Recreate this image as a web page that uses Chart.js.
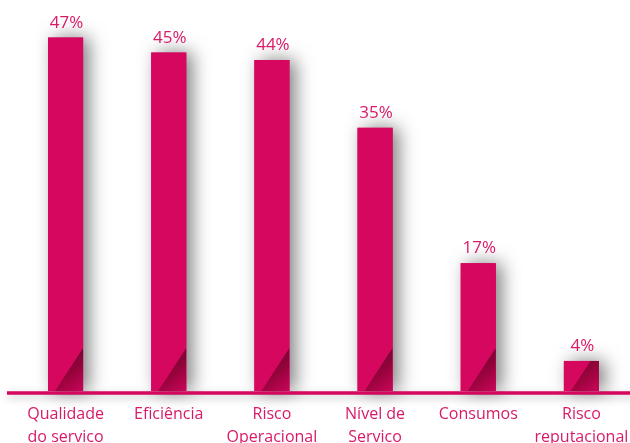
<!DOCTYPE html>
<html>
<head>
<meta charset="utf-8">
<script src="https://cdn.jsdelivr.net/npm/chart.js@4.4.1/dist/chart.umd.min.js"></script>
<style>
  html, body { margin: 0; padding: 0; background: #ffffff; overflow: hidden; }
  #wrap { width: 634px; height: 443px; }
</style>
</head>
<body>
<div id="wrap"><canvas id="c" width="634" height="443"></canvas></div>
<script>
const categories = [
  ["Qualidade", "do servico"],
  ["Eficiência"],
  ["Risco", "Operacional"],
  ["Nível de", "Servico"],
  ["Consumos"],
  ["Risco", "reputacional"]
];
const values = [47, 45, 44, 35, 17, 4];
const valueSuffix = "%";

const BAR = '#d5075f';
const TEXT = '#d81a68';

const shadowPlugin = {
  id: 'barShadow',
  beforeDatasetsDraw(chart) {
    const ctx = chart.ctx;
    ctx.save();
    // shadow under baseline
    const yb = chart.chartArea.bottom + 2;
    ctx.fillStyle = BAR;
    ctx.shadowColor = 'rgba(0,0,0,0.3)';
    ctx.shadowBlur = 8;
    ctx.shadowOffsetX = 0;
    ctx.shadowOffsetY = 3;
    ctx.fillRect(7, yb - 1.5, chart.width, 3);
    ctx.shadowColor = 'rgba(0,0,0,0.5)';
    ctx.shadowBlur = 18;
    ctx.shadowOffsetX = 6;
    ctx.shadowOffsetY = 0;
    chart.getDatasetMeta(0).data.forEach(el => {
      const w = el.width;
      ctx.fillRect(el.x - w / 2, el.y, w, el.base - el.y);
    });
    ctx.restore();
  },
  afterDatasetsDraw(chart) {
    const ctx = chart.ctx;
    const meta = chart.getDatasetMeta(0);
    meta.data.forEach((el, i) => {
      const w = el.width;
      const left = el.x - w / 2, right = el.x + w / 2;
      const top = el.y, base = el.base;
      // folded corner triangle
      ctx.save();
      ctx.beginPath();
      ctx.rect(left, top, w, base - top);
      ctx.clip();
      const x0 = left + 7, yTop = base - 43;
      const g = ctx.createLinearGradient(left + 12, base - 30, right, base);
      g.addColorStop(0, '#6e0530');
      g.addColorStop(0.45, '#98033c');
      g.addColorStop(1, '#c9065a');
      ctx.fillStyle = g;
      ctx.beginPath();
      ctx.moveTo(x0, base);
      ctx.lineTo(right, yTop);
      ctx.lineTo(right, base);
      ctx.closePath();
      ctx.fill();
      ctx.restore();
      // value label
      ctx.save();
      ctx.fillStyle = TEXT;
      ctx.font = '17px "Open Sans"';
      ctx.textAlign = 'center';
      ctx.textBaseline = 'alphabetic';
      ctx.fillText(values[i] + valueSuffix, el.x + 1, top - 10);
      ctx.restore();
    });
    // baseline
    const yb = chart.chartArea.bottom + 2;
    ctx.save();
    ctx.fillStyle = BAR;
    ctx.fillRect(7, yb - 1.5, chart.width, 3);
    ctx.restore();
  }
};

new Chart(document.getElementById('c'), {
  type: 'bar',
  data: {
    labels: categories,
    datasets: [{
      data: values,
      backgroundColor: BAR,
      borderWidth: 0,
      barPercentage: 0.34,
      categoryPercentage: 1.0
    }]
  },
  options: {
    responsive: false,
    animation: false,
    events: [],
    layout: { padding: { top: 15, left: 14, right: 1, bottom: 0 } },
    plugins: { legend: { display: false }, tooltip: { enabled: false } },
    scales: {
      x: {
        grid: { display: false, drawTicks: false },
        border: { display: false },
        ticks: {
          color: TEXT,
          font: { family: 'Open Sans', size: 16, lineHeight: 1.45 },
          padding: 12,
          maxRotation: 0,
          autoSkip: false
        },
        afterFit(scale) {
          scale.height = 52;
          scale.paddingLeft = 0;
          scale.paddingRight = 0;
        }
      },
      y: {
        display: false,
        min: 0,
        max: 50
      }
    }
  },
  plugins: [shadowPlugin]
});
</script>
</body>
</html>
